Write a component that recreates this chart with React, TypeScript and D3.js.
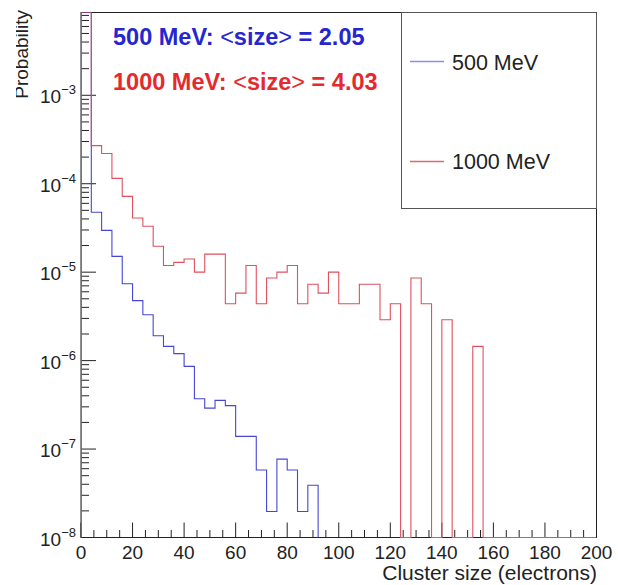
import React from "react";
import * as d3 from "d3";

// ---- data ----
const binWidth = 4; // electrons per bin
const xDomain = [0, 200];
const yDomain = [1e-8, 8.63e-3];
const xTickValues = [0, 20, 40, 60, 80, 100, 120, 140, 160, 180, 200];
const yDecades = [-8, -7, -6, -5, -4, -3];

// 500 MeV: probability per 4-electron bin (bin 0 is off-scale)
const blue500 = [
  0.5, 4.75e-5, 2.97e-5, 1.51e-5, 7.4e-6, 4.77e-6, 3.3e-6, 1.91e-6, 1.45e-6, 1.2e-6,
  8.6e-7, 3.7e-7, 2.9e-7, 3.55e-7, 3.1e-7, 1.39e-7, 1.39e-7, 5.8e-8, 1.97e-8, 7.7e-8,
  5.8e-8, 1.97e-8, 3.9e-8,
];
// 1000 MeV
const red1000 = [
  0.3, 2.7e-4, 2.2e-4, 1.15e-4, 7.2e-5, 4.1e-5, 3.3e-5, 1.96e-5, 1.19e-5, 1.29e-5,
  1.41e-5, 1.0e-5, 1.6e-5, 1.6e-5, 4.4e-6, 5.8e-6, 1.19e-5, 4.4e-6, 8.6e-6, 1.0e-5,
  1.19e-5, 4.4e-6, 7.3e-6, 5.8e-6, 1.0e-5, 4.4e-6, 4.4e-6, 7.3e-6, 7.3e-6, 2.9e-6,
  4.4e-6, 0, 8.6e-6, 4.4e-6, 0, 2.9e-6, 0, 0, 1.45e-6, 0,
  0, 0, 0, 0, 0, 0, 0, 0, 0, 0,
];

const seriesLabels = ["500 MeV", "1000 MeV"];
const annotationPrefix = ["500 MeV: ", "1000 MeV: "];
const annotationMeans = ["2.05", "4.03"];

// ---- layout ----
const W = 618, H = 585;
const L = 81, R = 596.5, T = 12.5, B = 537.5;
const FONT = "'Liberation Sans', Arial, Helvetica, sans-serif";
const BLUE_LINE = "#4646d2";
const RED_LINE = "#e0505e";

export default function App() {
  const x = d3.scaleLinear().domain(xDomain).range([L, R]);
  const y = d3.scaleLog().domain(yDomain).range([B, T]);

  const yv = (v: number) => (v > 0 ? Math.max(y(v), T) : B);

  const histPath = (vals: number[]) => {
    const p = d3.path();
    p.moveTo(x(0), B);
    vals.forEach((v, i) => {
      const x0 = x(i * binWidth), x1 = x((i + 1) * binWidth);
      p.lineTo(x0, yv(v));
      p.lineTo(x1, yv(v));
    });
    p.lineTo(x(vals.length * binWidth), B);
    return p.toString();
  };

  const minorX = d3.range(0, 201, 5).filter((v) => v % 20 !== 0);
  const minorY: number[] = [];
  for (let e = -8; e <= -3; e++) {
    for (let m = 2; m <= 9; m++) {
      const v = m * Math.pow(10, e);
      if (v <= yDomain[1]) minorY.push(v);
    }
  }

  const annColors = ["#2626cf", "#e42a2f"];
  const annY = [45, 90];

  return (
    <svg width={W} height={H} style={{ position: "absolute", left: 0, top: 0, background: "#fff" }} fontFamily={FONT}>
      <defs>
        <clipPath id="plotclip">
          <rect x={L} y={T} width={R - L} height={B - T + 1} />
        </clipPath>
        <clipPath id="ylabclip">
          <rect x={16} y={0} width={40} height={200} />
        </clipPath>
      </defs>
      <rect x={0} y={0} width={W} height={H} fill="#fff" />

      {/* frame */}
      <rect x={L} y={T} width={R - L} height={B - T} fill="none" stroke="#222" strokeWidth={1} />

      {/* x ticks */}
      {xTickValues.map((v) => (
        <line key={"xM" + v} x1={x(v)} x2={x(v)} y1={B} y2={B - 15} stroke="#222" />
      ))}
      {minorX.map((v) => (
        <line key={"xm" + v} x1={x(v)} x2={x(v)} y1={B} y2={B - 7.5} stroke="#222" />
      ))}
      {xTickValues.map((v) => (
        <text key={"xl" + v} x={x(v)} y={559} textAnchor="middle" fontSize={19} fill="#222">
          {v}
        </text>
      ))}

      {/* y ticks */}
      {yDecades.map((e) => (
        <line key={"yM" + e} x1={L} x2={L + 15} y1={y(Math.pow(10, e))} y2={y(Math.pow(10, e))} stroke="#222" />
      ))}
      {minorY.map((v, i) => (
        <line key={"ym" + i} x1={L} x2={L + 8} y1={y(v)} y2={y(v)} stroke="#222" />
      ))}
      {yDecades.map((e) => (
        <text key={"yl" + e} x={76} y={y(Math.pow(10, e)) + 8} textAnchor="end" fontSize={19} fill="#222">
          10
          <tspan dy={-9} fontSize={13}>
            {"\u2212" + Math.abs(e)}
          </tspan>
        </text>
      ))}

      {/* histograms */}
      <g clipPath="url(#plotclip)" fill="none" strokeWidth={1.1}>
        <path d={histPath(blue500)} stroke={BLUE_LINE} />
        <path d={histPath(red1000)} stroke={RED_LINE} />
      </g>

      {/* axis titles */}
      <g clipPath="url(#ylabclip)">
        <text transform="translate(28,10) rotate(-90)" textAnchor="end" fontSize={19} fill="#222">
          Probability
        </text>
      </g>
      <text x={597} y={580} textAnchor="end" fontSize={21} fill="#222">
        Cluster size (electrons)
      </text>

      {/* annotations */}
      {annotationPrefix.map((pre, i) => (
        <text key={"ann" + i} x={113} y={annY[i]} fontSize={23.5} fontWeight="bold" fill={annColors[i]}>
          {pre}
          <tspan fontWeight="normal">{"<"}</tspan>
          {"size"}
          <tspan fontWeight="normal">{">"}</tspan>
          {" = " + annotationMeans[i]}
        </text>
      ))}

      {/* legend */}
      <rect x={401.5} y={T} width={R - 401.5} height={196} fill="#fff" stroke="#555" strokeWidth={1} />
      <line x1={410} x2={444} y1={61.5} y2={61.5} stroke="#8c8cf2" strokeWidth={1.5} />
      <text x={452} y={70} fontSize={21.5} fill="#222">
        {seriesLabels[0]}
      </text>
      <line x1={410} x2={444} y1={161.5} y2={161.5} stroke="#dc6a72" strokeWidth={1.5} />
      <text x={452} y={168.5} fontSize={21.5} fill="#222">
        {seriesLabels[1]}
      </text>
    </svg>
  );
}
